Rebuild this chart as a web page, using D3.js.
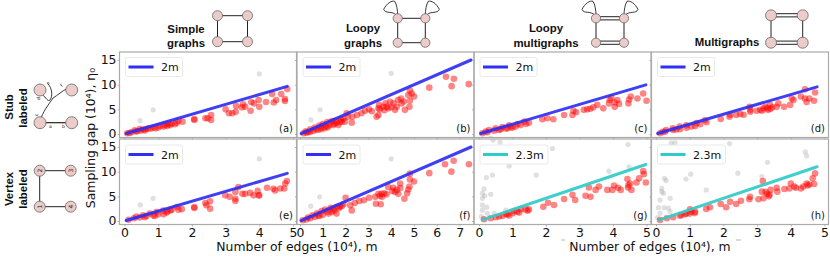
<!DOCTYPE html>
<html>

<head>
    <title>Sampling gap panels</title>
    <script src="https://d3js.org/d3.v7.min.js"></script>
    <style>
        html, body {
            margin: 0;
            padding: 0;
            background: #fff;
        }

        svg {
            display: block;
        }

        text {
            font-family: "DejaVu Sans", sans-serif;
            fill: #111;
        }

        .head {
            font-family: "Liberation Sans", Arial, sans-serif;
            font-weight: bold;
            font-size: 11.4px;
        }

        .tick text {
            font-size: 12.4px;
        }
    </style>
</head>

<body>
    <svg width="830" height="260"></svg>

    <script>
        // values: [edges m, gap], both in units of 10^4
        const redA = [[4.83, 9.1], [4.65, 8.1], [4.38, 8.1], [4.76, 7.1], [4.76, 6.7], [4.5, 6.9], [4.2, 6.5], [4.43, 6.4], [3.98, 6.9], [4.0, 5.5], [3.76, 6.5], [3.84, 6.2], [3.74, 4.7], [3.52, 6.0], [3.58, 5.5], [3.31, 5.7], [3.3, 4.5], [3.2, 4.2], [3.1, 4.2], [3.0, 5.0], [3.48, 5.4], [2.57, 3.85], [2.57, 2.85], [2.4, 3.2], [2.47, 3.2], [2.07, 3.05], [2.07, 2.85], [1.72, 2.5], [1.6, 2.7], [1.5, 2.0], [1.36, 1.8], [1.26, 1.6], [1.16, 1.5], [1.06, 1.6], [0.92, 1.15], [0.77, 1.08], [0.63, 0.95], [0.48, 0.7], [0.33, 0.5], [0.2, 0.35], [0.08, 0.15], [1.4, 2.1], [0.85, 1.3], [0.55, 0.9], [0.3, 0.75], [0.45, 1.0], [0.7, 1.15], [1.0, 1.3], [1.2, 1.9], [1.3, 2.0], [1.55, 2.3], [0.6, 0.7], [0.15, 0.2], [0.38, 0.55]];
        const grayA = [[4.0, 12.2], [0.85, 4.9], [0.46, 2.7]];

        const redB = [[7.4, 10.1], [6.75, 11.2], [6.65, 9.7], [6.4, 11.6], [5.67, 9.4], [4.82, 8.8], [4.9, 8.2], [5.0, 7.6], [4.75, 7.9], [4.82, 6.75], [4.8, 5.5], [4.6, 4.9], [4.43, 7.2], [4.3, 6.9], [4.17, 4.9], [4.24, 5.5], [4.1, 6.2], [3.95, 6.55], [3.87, 5.2], [3.8, 5.5], [3.65, 5.5], [3.47, 5.9], [3.44, 5.2], [3.36, 3.5], [3.44, 3.85], [3.5, 5], [3.03, 5], [2.85, 4.7], [2.7, 4.2], [2.5, 3.85], [2.27, 2.3], [2.3, 3.5], [2.05, 4.2], [2.1, 3.5], [1.97, 2.5], [1.83, 2.5], [1.68, 1.8], [1.46, 1.8], [1.3, 1.8], [1.22, 1.35], [1.07, 1.15], [0.92, 0.95], [0.78, 0.8], [0.58, 0.6], [0.44, 0.4], [0.29, 0.27], [0.15, 0.14], [1.9, 3.1], [1.6, 2.3], [4.55, 6.6], [3.75, 6.2], [1.75, 2.4], [1.55, 2.7], [1.4, 2.6], [1.2, 2.4], [1.0, 2.0], [0.85, 1.7], [0.65, 1.3], [0.45, 0.95], [0.25, 0.55], [1.8, 3.0], [1.5, 2.1], [1.15, 1.5], [0.95, 1.3], [0.7, 0.95], [0.35, 0.4], [3.7, 4.8], [4.0, 5.4], [4.45, 6.2], [3.15, 4.6]];
        const grayB = [[4.0, 12.3], [0.88, 4.9], [0.48, 2.85]];

        const redC = [[5.0, 6.75], [4.9, 8.2], [4.73, 7.2], [4.53, 7.6], [4.46, 6.2], [4.48, 7.0], [4.18, 6.1], [4.13, 6.9], [4.05, 5.5], [3.9, 6.9], [3.88, 6.2], [3.71, 5.2], [3.53, 5.9], [3.41, 5.4], [3.23, 5.0], [3.13, 4.9], [2.82, 4.7], [2.79, 3.85], [2.54, 3.85], [2.22, 3.0], [2.04, 3.2], [1.89, 3.0], [1.49, 2.3], [1.24, 1.8], [1.09, 1.5], [0.85, 1.15], [0.65, 0.95], [0.45, 0.68], [0.25, 0.35], [0.1, 0.15], [1.4, 2.05], [0.95, 1.35], [3.32, 5.1], [2.9, 4.4], [0.3, 0.8], [0.5, 1.15], [0.7, 1.4], [0.9, 1.75], [1.15, 2.0], [1.35, 2.5], [0.2, 0.5], [0.6, 0.8], [0.8, 1.1], [1.0, 1.3], [4.05, 6.4], [3.95, 7.3]];
        const grayC = [[0.35, -0.9]];

        const redD = [[4.72, 8.4], [4.69, 6.75], [4.55, 7.2], [4.42, 9.05], [4.42, 7.2], [4.3, 7.6], [4.47, 6.5], [4.08, 6.9], [3.98, 5.9], [4.03, 7.2], [3.8, 5.5], [3.58, 5.5], [3.63, 6.2], [3.38, 5.9], [3.33, 4.9], [3.19, 5.2], [3.09, 4.9], [2.99, 4.7], [2.8, 4.5], [2.78, 5.5], [2.5, 4.05], [2.38, 3.85], [2.18, 3.5], [1.92, 3.05], [1.5, 2.4], [1.31, 2.0], [1.16, 1.6], [0.91, 1.25], [0.71, 0.95], [0.51, 0.8], [0.27, 0.47], [0.12, 0.15], [3.25, 5.5], [3.45, 5.4], [3.15, 4.7], [2.6, 3.9], [1.05, 1.5], [0.3, 0.8], [0.5, 1.15], [0.7, 1.5], [0.9, 1.75], [1.2, 2.2], [1.45, 2.8], [0.2, 0.45], [0.6, 0.9], [3.3, 5.2], [3.4, 5.1], [2.8, 4.9], [2.2, 3.9]];
        const grayD = [];

        const redE = [[4.82, 8.1], [4.77, 7.6], [4.74, 6.6], [4.62, 6.6], [4.47, 6.2], [4.42, 6.55], [4.23, 6.75], [3.95, 6.1], [4.0, 5.2], [3.98, 5.2], [3.83, 5.2], [3.73, 5.7], [3.58, 5.5], [3.5, 5.5], [3.38, 6.9], [3.29, 5.9], [3.29, 4.5], [3.29, 4.05], [3.12, 4.9], [2.99, 5.2], [2.54, 2.5], [2.54, 4.0], [2.43, 3.2], [2.4, 3.65], [2.07, 2.85], [2.07, 2.65], [1.7, 2.4], [1.6, 2.3], [1.55, 2.85], [1.36, 2.15], [1.16, 1.35], [1.28, 2.0], [1.0, 1.35], [0.85, 1.15], [0.65, 1.0], [0.45, 0.7], [0.28, 0.55], [0.12, 0.25], [0.35, 0.9], [0.55, 1.15], [0.75, 1.5], [0.95, 1.8], [1.15, 2.1], [1.4, 2.3], [1.25, 1.7], [0.9, 1.0], [0.6, 0.75]];
        const grayE = [[4.0, 12.6], [0.85, 4.6], [0.47, 3.25]];

        const redF = [[7.41, 11.5], [6.74, 12.2], [6.64, 10.0], [6.36, 11.5], [5.67, 9.7], [5.0, 8.0], [4.82, 8.4], [4.82, 9.6], [4.8, 7.0], [4.58, 4.5], [4.39, 7.6], [4.31, 5.5], [4.17, 5.9], [4.09, 6.75], [3.87, 6.9], [3.8, 5.4], [3.58, 5.5], [3.44, 5.5], [3.3, 4.9], [3.33, 3.5], [3.54, 3.4], [3.03, 4.7], [2.8, 4.2], [2.6, 4.05], [2.4, 3.65], [2.27, 2.15], [2.2, 3.2], [2.0, 4.7], [1.83, 3.0], [1.6, 1.5], [1.39, 1.8], [1.7, 2.6], [1.45, 2.4], [1.2, 1.9], [1.0, 1.25], [0.85, 1.0], [0.65, 0.8], [0.45, 0.55], [0.28, 0.3], [0.12, 0.15], [4.7, 5.6], [4.25, 6.3], [3.6, 4.9], [1.9, 3.4], [1.6, 2.9], [1.35, 2.7], [1.1, 2.3], [0.95, 2.0], [0.75, 1.55], [0.55, 1.15], [0.35, 0.7], [1.5, 2.1], [1.25, 1.5], [0.8, 1.1], [1.75, 2.9], [3.5, 5.1], [4.05, 6.1], [3.7, 5.6], [4.4, 6.7], [4.75, 6.4]];
        const grayF = [[4.0, 12.6], [0.86, 4.9], [0.47, 3.0]];

        const redG = [[4.98, 7.8], [4.9, 10.1], [4.92, 9.5], [4.78, 8.65], [4.7, 7.8], [4.51, 7.6], [4.43, 8.5], [4.46, 7.3], [4.55, 6.3], [4.23, 6.3], [4.15, 6.75], [4.03, 7.2], [3.98, 6.3], [3.83, 6.3], [3.58, 7.0], [3.48, 6.3], [3.33, 4.9], [3.18, 5.1], [3.28, 6.8], [2.87, 4.25], [2.79, 5.3], [2.54, 4.45], [2.24, 3.25], [2.06, 3.7], [1.92, 2.9], [1.49, 2.35], [1.39, 2.35], [1.14, 1.9], [1.0, 1.55], [0.85, 1.35], [0.7, 1.0], [0.5, 0.75], [0.35, 0.55], [0.15, 0.35], [1.25, 2.4], [0.9, 1.1], [4.45, 6.8], [1.05, 2.0], [0.8, 1.4], [1.2, 1.7], [1.45, 2.1], [0.6, 0.9]];
        const grayG = [[4.45, 15.5], [3.88, 10.1], [4.48, 11.0], [2.19, 14.7], [1.71, 9.3], [0.9, 11.15], [0.63, 16.0], [0.42, 16.4], [0.4, 9.3], [0.22, 8.8], [0.15, 6.5], [0.1, 5.6], [0.17, 5.1], [0.35, 5.4], [0.1, 4.6], [0.1, 3.25], [0.23, 2.8], [0.1, 2.2], [0.07, 0.9], [0.8, 2.2], [0.45, 1.55], [0.25, 1.55]];

        const redH = [[4.72, 9.65], [4.65, 8.65], [4.69, 7.5], [4.47, 7.6], [4.37, 7.0], [4.3, 6.6], [4.15, 6.75], [4.0, 7.6], [3.96, 6.6], [3.81, 6.5], [3.58, 6.75], [3.6, 5.95], [3.4, 6.3], [3.37, 5.3], [3.17, 8.1], [3.14, 5.95], [3.19, 4.6], [3.04, 4.4], [2.79, 4.9], [2.77, 4.4], [2.52, 4.1], [2.38, 3.45], [2.2, 3.9], [2.08, 2.8], [1.92, 3.45], [1.6, 2.8], [1.49, 2.45], [1.16, 1.9], [1.01, 2.35], [0.86, 1.35], [0.71, 1.08], [0.51, 0.75], [0.32, 0.55], [0.12, 0.2], [1.0, 1.5], [1.15, 1.6], [3.3, 5.5], [4.1, 7.0], [4.5, 7.2], [0.9, 1.5], [0.75, 1.2], [1.05, 1.9], [3.25, 5.9], [3.35, 5.0], [4.55, 7.4]];
        const grayH = [[3.31, 11.9], [3.14, 9.0], [2.18, 15.7], [2.43, 9.7], [1.49, 6.3], [1.03, 9.5], [0.89, 8.5], [0.56, 15.9], [0.45, 15.8], [0.25, 8.65], [0.3, 8.2], [0.17, 6.6], [0.22, 5.6], [0.12, 4.25], [0.42, 4.6], [4.43, 14.0], [4.47, 13.2], [0.24, 2.7], [0.07, 2.7], [0.37, 2.6], [0.12, 1.55], [0.04, 0.7], [0.42, 1.9], [0.17, 5.95]];

        const slopes = [2, 2, 2, 2, 2, 2, 2.3, 2.3];
        const lineEnds = [4.83, 7.5, 4.98, 4.78, 4.83, 7.5, 4.98, 4.78];
        const lineStarts = [0.05, 0.05, 0.05, 0.05, 0.05, 0.05, 0.1, 0.1];
        const xTicks4 = [0, 1, 2, 3, 4, 5];
        const xTicks7 = [0, 1, 2, 3, 4, 5, 6, 7];
        const yTicks = [0, 5, 10, 15];
        const letters = ["(a)", "(b)", "(c)", "(d)", "(e)", "(f)", "(g)", "(h)"];
        const reds = [redA, redB, redC, redD, redE, redF, redG, redH];
        const grays = [grayA, grayB, grayC, grayD, grayE, grayF, grayG, grayH];

        const svg = d3.select("svg");
        const colLeft = [119.5, 297, 474, 651.5];
        const colWidth = 177;
        const rowTop = [52, 139];
        const panelH = 85.5;
        // pixel position of x = 0 inside each column, and pixels per unit
        const x0 = [5, 3, 5, 4.5];
        const xUnit = [33.7, 22.8, 33.5, 33.7];

        const defs = svg.append("defs");

        d3.range(8).forEach(i => {
            const col = i % 4, row = i < 4 ? 0 : 1;
            const left = colLeft[col], top = rowTop[row];
            const g = svg.append("g").attr("transform", `translate(${left},${top})`);

            const x = d3.scaleLinear().domain([0, 1]).range([x0[col], x0[col] + xUnit[col]]);
            const y = d3.scaleLinear().domain([0, 15]).range([82, 8]);

            defs.append("clipPath").attr("id", "clip" + i)
                .append("rect").attr("width", colWidth).attr("height", panelH);

            const plot = g.append("g").attr("clip-path", `url(#clip${i})`);

            plot.selectAll("circle.gray")
                .data(grays[i])
                .join("circle")
                .attr("class", "gray")
                .attr("cx", d => x(d[0]))
                .attr("cy", d => y(d[1]))
                .attr("r", 2.6)
                .attr("fill", "#999")
                .attr("fill-opacity", 0.3);

            plot.selectAll("circle.red")
                .data(reds[i])
                .join("circle")
                .attr("class", "red")
                .attr("cx", d => x(d[0]))
                .attr("cy", d => y(d[1]))
                .attr("r", 3.3)
                .attr("fill", "#ff0000")
                .attr("fill-opacity", 0.48);

            const teal = slopes[i] !== 2;
            const lineColor = teal ? "#2fcbc8" : "#2f2ff5";
            const fit = [lineStarts[i], lineEnds[i]].map(m => [m, slopes[i] * m]);

            plot.append("path")
                .attr("d", d3.line().x(d => x(d[0])).y(d => y(d[1]))(fit))
                .attr("fill", "none")
                .attr("stroke", lineColor)
                .attr("stroke-opacity", 0.92)
                .attr("stroke-width", 3)
                .attr("stroke-linecap", "round");

            // axes, only the outer ones get numbers
            const xAxis = d3.axisBottom(x)
                .tickValues(col === 1 ? xTicks7 : xTicks4)
                .tickSize(2).tickPadding(2);
            if (row === 0) xAxis.tickFormat("");
            else xAxis.tickFormat(d3.format("d"));

            const yAxis = d3.axisLeft(y).tickValues(yTicks).tickSize(2).tickPadding(1);
            if (col !== 0) yAxis.tickFormat("");

            const ax = g.append("g").attr("transform", `translate(0,${panelH})`).call(xAxis);
            const ay = g.append("g").call(yAxis);
            [ax, ay].forEach(a => {
                a.select(".domain").remove();
                a.selectAll("line").attr("stroke", "#999").attr("stroke-width", 0.7);
                a.selectAll("text").attr("fill", "#111").attr("font-family", "DejaVu Sans");
            });

            g.append("rect")
                .attr("width", colWidth)
                .attr("height", panelH)
                .attr("fill", "none")
                .attr("stroke", "#aaa")
                .attr("stroke-width", 1.2);

            // legend
            const label = slopes[i] + "m";
            const boxW = teal ? 68 : 57;
            const leg = g.append("g").attr("transform", `translate(6,${row === 0 ? 5.5 : 6})`);
            leg.append("rect")
                .attr("width", boxW).attr("height", 19).attr("rx", 2)
                .attr("fill", "#fff").attr("fill-opacity", 0.8)
                .attr("stroke", "#e3e3e3").attr("stroke-width", 0.8);
            leg.append("line")
                .attr("x1", 3).attr("x2", 28).attr("y1", 9.5).attr("y2", 9.5)
                .attr("stroke", lineColor).attr("stroke-width", 3);
            leg.append("text")
                .attr("x", 35.5).attr("y", 13.5)
                .attr("font-size", 11)
                .text(label);

            g.append("text")
                .attr("x", colWidth - 3.5).attr("y", 80)
                .attr("text-anchor", "end")
                .attr("font-size", 10)
                .text(letters[i]);
        });

        svg.append("text")
            .attr("transform", "translate(95,138) rotate(-90)")
            .attr("text-anchor", "middle")
            .attr("font-size", 12.4)
            .text("Sampling gap (10⁴), η₀");

        [297, 650].forEach(cx => {
            svg.append("text")
                .attr("x", cx).attr("y", 251)
                .attr("text-anchor", "middle")
                .attr("font-size", 12.4)
                .text("Number of edges (10⁴), m");
        });
        // the two stray dashes beside the second label
        [[561, 565], [736, 741]].forEach(d => {
            svg.append("line")
                .attr("x1", d[0]).attr("x2", d[1]).attr("y1", 240).attr("y2", 240)
                .attr("stroke", "#999").attr("stroke-width", 0.7);
        });

        // headings
        function head(x, y, str, rot) {
            const t = svg.append("text").attr("class", "head").attr("text-anchor", "middle").text(str);
            if (rot) t.attr("transform", `translate(${x},${y}) rotate(-90)`);
            else t.attr("x", x).attr("y", y);
        }
        head(186, 33, "Simple"); head(186, 47, "graphs");
        head(363, 32, "Loopy"); head(363, 46.5, "graphs");
        head(546, 32, "Loopy"); head(546, 46.5, "multigraphs");
        head(727, 45.5, "Multigraphs");
        head(12.5, 107, "Stub", true); head(27, 108, "labeled", true);
        head(12.5, 189, "Vertex", true); head(27, 189, "labeled", true);

        // little graph sketches
        const nodeFill = "#eccbc8", nodeLine = "#666", edge = "#222";

        function seg(x1, y1, x2, y2, w) {
            svg.append("line").attr("x1", x1).attr("y1", y1).attr("x2", x2).attr("y2", y2)
                .attr("stroke", edge).attr("stroke-width", w || 1);
        }
        function curve(d) {
            svg.append("path").attr("d", d).attr("fill", "none").attr("stroke", edge).attr("stroke-width", 0.9);
        }
        function nodes(list, r) {
            list.forEach(p => {
                svg.append("circle").attr("cx", p[0]).attr("cy", p[1]).attr("r", r)
                    .attr("fill", nodeFill).attr("stroke", nodeLine).attr("stroke-width", 0.8);
            });
        }
        function square(l, r, t, b, doubled) {
            seg(l, t, l, b); seg(r, t, r, b);
            if (doubled) {
                seg(l, t - 1.6, r, t - 1.6); seg(l, t + 1.6, r, t + 1.6);
                seg(l, b - 1.6, r, b - 1.6); seg(l, b + 1.6, r, b + 1.6);
            } else {
                seg(l, t, r, t); seg(l, b, r, b);
            }
        }
        function loops(l, r, t) {
            curve(`M${l - 1},${t - 3} C${l - 6},${t - 8} ${l - 12},${t - 4} ${l - 14},${t - 9} C${l - 11},${t - 15} ${l - 6},${t - 18} ${l - 3},${t - 17} C${l - 1},${t - 14} ${l},${t - 8} ${l},${t - 3}`);
            curve(`M${r + 1},${t - 3} C${r + 6},${t - 8} ${r + 12},${t - 4} ${r + 14},${t - 9} C${r + 11},${t - 15} ${r + 6},${t - 18} ${r + 3},${t - 17} C${r + 1},${t - 14} ${r},${t - 8} ${r},${t - 3}`);
        }

        square(217.5, 247.5, 15.7, 41.7);
        nodes([[217.5, 15.7], [247.5, 15.7], [217.5, 41.7], [247.5, 41.7]], 5);

        loops(397.7, 425.3, 18.3);
        square(397.7, 425.3, 18.3, 42.7);
        nodes([[397.7, 18.3], [425.3, 18.3], [397.7, 42.7], [425.3, 42.7]], 4.6);

        loops(596, 624, 18.3);
        square(596, 624, 18.3, 42.7, true);
        nodes([[596, 18.3], [624, 18.3], [596, 42.7], [624, 42.7]], 4.6);

        square(771, 802.7, 15.3, 42.7, true);
        nodes([[771, 15.3], [802.7, 15.3], [771, 42.7], [802.7, 42.7]], 5.5);

        // stub labeled sketch
        seg(40, 122.7, 71.7, 122.7, 1.2);
        curve("M41,118 C45,108 50,103 53,98 C58,95 62,91 68,88");
        curve("M42,94 C46,98 48,102 50,100 C53,96 52,88 48,84");
        nodes([[40, 90], [71.7, 90], [40, 122.7], [71.7, 122.7]], 6);
        [["a", 49, 128, 0], ["b", 62, 128, 0], ["c", 38, 116, -90], ["d", 40, 100, -90], ["e", 48, 85, -45], ["f", 62, 87, -45]].forEach(s => {
            svg.append("text")
                .attr("transform", `translate(${s[1]},${s[2]}) rotate(${s[3]})`)
                .attr("font-size", 4.5)
                .text(s[0]);
        });

        // vertex labeled sketch
        seg(39.7, 170.7, 39.7, 206.7); seg(39.7, 170.7, 70.7, 170.7); seg(39.7, 206.7, 70.7, 206.7);
        const vertexNodes = [[39.7, 206.7, "1"], [39.7, 170.7, "2"], [70.7, 170.7, "3"], [70.7, 206.7, "4"]];
        nodes(vertexNodes, 5.5);
        vertexNodes.forEach(p => {
            svg.append("text")
                .attr("transform", `translate(${p[0] + 2},${p[1]}) rotate(-90)`)
                .attr("text-anchor", "middle")
                .attr("font-size", 6)
                .text(p[2]);
        });
    </script>

</body>

</html>
